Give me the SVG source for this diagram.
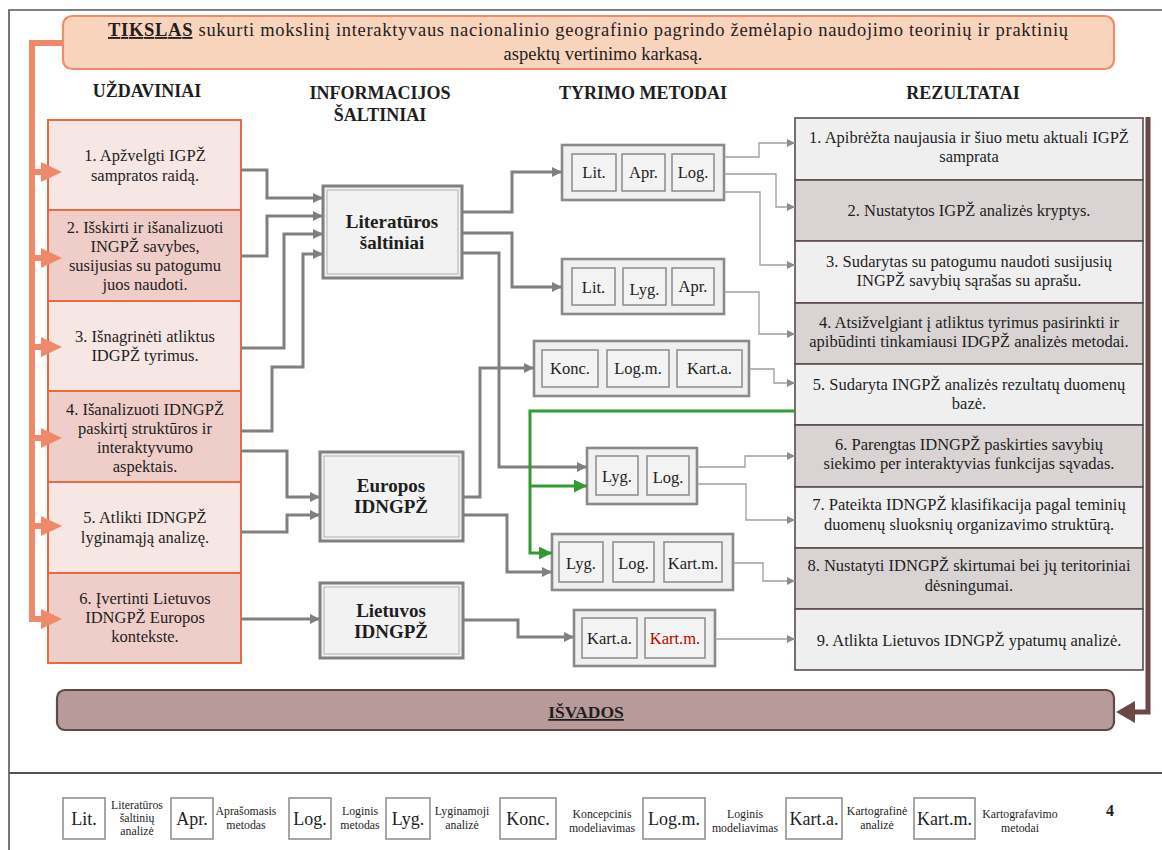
<svg xmlns="http://www.w3.org/2000/svg" width="1162" height="850" viewBox="0 0 1162 850">
<style>
text{font-family:"Liberation Serif",serif;fill:#1e1e1e}
.c{text-anchor:middle}
.task{font-size:16.5px}
.res{font-size:16.5px}
.hdr{font-size:18px;font-weight:bold}
.src{font-size:19px;font-weight:bold}
.m{font-size:16.5px}
.lg{font-size:18px}
.ld{font-size:11.8px}
.tl{fill:#f6e6e4;stroke:#e86a40;stroke-width:2}
.td{fill:#efcdc9;stroke:#e86a40;stroke-width:2}
.rl{fill:#efefef;stroke:#5b4b4b;stroke-width:1.6}
.rd{fill:#d9d3d3;stroke:#5b4b4b;stroke-width:1.6}
.sb{fill:#f2f2f2;stroke:#808080;stroke-width:3}
.sbi{fill:none;stroke:#b0b0b0;stroke-width:1}
.grp{fill:#f0f0f0;stroke:#8a8a8a;stroke-width:2.6}
.item{fill:#f3f3f3;stroke:#8a8a8a;stroke-width:1.5}
.lbox{fill:#fff;stroke:#8a8a8a;stroke-width:1.5}
.conn{fill:none;stroke:#808080;stroke-width:3}
.thin{fill:none;stroke:#9e9e9e;stroke-width:1.3}
.green{fill:none;stroke:#339933;stroke-width:3}
.orng{fill:none;stroke:#f0896a;stroke-width:6}
.oarr{fill:#f0896a}
</style>
<defs>
<marker id="ag" viewBox="0 0 10 10" refX="10" refY="5" markerWidth="11" markerHeight="10" markerUnits="userSpaceOnUse" orient="auto"><path d="M0,0L10,5L0,10z" fill="#808080"/></marker>
<marker id="at" viewBox="0 0 10 10" refX="10" refY="5" markerWidth="9" markerHeight="8" markerUnits="userSpaceOnUse" orient="auto"><path d="M0,0L10,5L0,10z" fill="#8c8c8c"/></marker>
<marker id="agr" viewBox="0 0 10 10" refX="10" refY="5" markerWidth="13" markerHeight="13" markerUnits="userSpaceOnUse" orient="auto"><path d="M0,0L10,5L0,10z" fill="#339933"/></marker>
</defs>

<g id="frame" fill="none" stroke="#555" stroke-width="1.6">
<path d="M9,850V10H1162"/>
<path d="M9,773H1162" stroke-width="2.2"/>
</g>

<g id="goal">
<rect x="63" y="16" width="1051" height="53" rx="9" fill="#f8d4bd" stroke="#f08c6c" stroke-width="2.2"/>
<text x="108" y="36" textLength="960" lengthAdjust="spacing" style="font-size:18.5px"><tspan font-weight="bold" text-decoration="underline">TIKSLAS</tspan> sukurti mokslinį interaktyvaus nacionalinio geografinio pagrindo žemėlapio naudojimo teorinių ir praktinių</text>
<text class="c" x="603" y="60" style="font-size:18.5px">aspektų vertinimo karkasą.</text>
</g>

<g id="headers">
<text class="c hdr" x="147" y="97">UŽDAVINIAI</text>
<text class="c hdr" x="380" y="99">INFORMACIJOS</text>
<text class="c hdr" x="380" y="121">ŠALTINIAI</text>
<text class="c hdr" x="643" y="99">TYRIMO METODAI</text>
<text class="c hdr" x="963" y="99">REZULTATAI</text>
</g>

<g id="task1"><rect class="tl" x="48" y="120" width="193" height="90"/>
<text class="c task" x="145" y="161">1. Apžvelgti IGPŽ</text><text class="c task" x="145" y="181">sampratos raidą.</text></g>
<g id="task2"><rect class="td" x="48" y="210" width="193" height="91"/>
<text class="c task" x="145" y="233">2. Išskirti ir išanalizuoti</text><text class="c task" x="145" y="252">INGPŽ savybes,</text><text class="c task" x="145" y="271">susijusias su patogumu</text><text class="c task" x="145" y="290">juos naudoti.</text></g>
<g id="task3"><rect class="tl" x="48" y="301" width="193" height="90"/>
<text class="c task" x="145" y="342">3. Išnagrinėti atliktus</text><text class="c task" x="145" y="361">IDGPŽ tyrimus.</text></g>
<g id="task4"><rect class="td" x="48" y="391" width="193" height="91"/>
<text class="c task" x="145" y="415">4. Išanalizuoti IDNGPŽ</text><text class="c task" x="145" y="434">paskirtį struktūros ir</text><text class="c task" x="145" y="453">interaktyvumo</text><text class="c task" x="145" y="472">aspektais.</text></g>
<g id="task5"><rect class="tl" x="48" y="482" width="193" height="91"/>
<text class="c task" x="145" y="523">5. Atlikti IDNGPŽ</text><text class="c task" x="145" y="543">lyginamąją analizę.</text></g>
<g id="task6"><rect class="td" x="48" y="573" width="193" height="90"/>
<text class="c task" x="145" y="604">6. Įvertinti Lietuvos</text><text class="c task" x="145" y="623">IDNGPŽ Europos</text><text class="c task" x="145" y="642">kontekste.</text></g>

<g id="orange-flow">
<path class="orng" d="M63,43H32V619H42"/>
<path class="orng" d="M32,172H42M32,258H42M32,347H42M32,438H42M32,526H42"/>
<polygon class="oarr" points="62,172 41,162 41,182"/>
<polygon class="oarr" points="62,258 41,248 41,268"/>
<polygon class="oarr" points="62,347 41,337 41,357"/>
<polygon class="oarr" points="62,438 41,428 41,448"/>
<polygon class="oarr" points="62,526 41,516 41,536"/>
<polygon class="oarr" points="62,619 41,609 41,629"/>
</g>

<g id="src-lit"><rect class="sb" x="323" y="186" width="139" height="92"/><rect class="sbi" x="327" y="190" width="131" height="84"/>
<text class="c src" x="392" y="228">Literatūros</text><text class="c src" x="392" y="249">šaltiniai</text></g>
<g id="src-eu"><rect class="sb" x="320" y="452" width="143" height="89"/><rect class="sbi" x="324" y="456" width="135" height="81"/>
<text class="c src" x="391" y="492">Europos</text><text class="c src" x="391" y="513">IDNGPŽ</text></g>
<g id="src-lt"><rect class="sb" x="320" y="583" width="143" height="75"/><rect class="sbi" x="324" y="587" width="135" height="67"/>
<text class="c src" x="391" y="617">Lietuvos</text><text class="c src" x="391" y="638">IDNGPŽ</text></g>

<g id="m1"><rect class="grp" x="562" y="145" width="162" height="55"/>
<rect class="item" x="572" y="154" width="44" height="37"/><text class="c m" x="594" y="178">Lit.</text>
<rect class="item" x="622" y="154" width="43" height="37"/><text class="c m" x="643.5" y="178">Apr.</text>
<rect class="item" x="672" y="154" width="42" height="37"/><text class="c m" x="693" y="178">Log.</text></g>
<g id="m2"><rect class="grp" x="562" y="259" width="162" height="55"/>
<rect class="item" x="572" y="268" width="43" height="37"/><text class="c m" x="593.5" y="293">Lit.</text>
<rect class="item" x="623" y="268" width="43" height="37"/><text class="c m" x="644.5" y="295">Lyg.</text>
<rect class="item" x="672" y="268" width="42" height="37"/><text class="c m" x="693" y="292">Apr.</text></g>
<g id="m3"><rect class="grp" x="534" y="341" width="215" height="55"/>
<rect class="item" x="542" y="350" width="56" height="37"/><text class="c m" x="570" y="374">Konc.</text>
<rect class="item" x="607" y="350" width="62" height="37"/><text class="c m" x="638" y="374">Log.m.</text>
<rect class="item" x="677" y="350" width="65" height="37"/><text class="c m" x="709.5" y="374">Kart.a.</text></g>
<g id="m4"><rect class="grp" x="587" y="448" width="110" height="56"/>
<rect class="item" x="596" y="456" width="42" height="39"/><text class="c m" x="617" y="482">Lyg.</text>
<rect class="item" x="647" y="456" width="42" height="39"/><text class="c m" x="668" y="483">Log.</text></g>
<g id="m5"><rect class="grp" x="552" y="534" width="181" height="56"/>
<rect class="item" x="559" y="542" width="44" height="40"/><text class="c m" x="581" y="569">Lyg.</text>
<rect class="item" x="613" y="542" width="41" height="40"/><text class="c m" x="633.5" y="569">Log.</text>
<rect class="item" x="664" y="542" width="58" height="40"/><text class="c m" x="693" y="569">Kart.m.</text></g>
<g id="m6"><rect class="grp" x="574" y="610" width="141" height="56"/>
<rect class="item" x="582" y="618" width="55" height="40"/><text class="c m" x="609.5" y="644">Kart.a.</text>
<rect class="item" x="645" y="618" width="60" height="40"/><text class="c m" x="675" y="644" style="fill:#c00000">Kart.m.</text></g>

<g id="r1"><rect class="rl" x="795" y="118" width="348" height="62"/>
<text class="c res" x="969" y="143">1. Apibrėžta naujausia ir šiuo metu aktuali IGPŽ</text><text class="c res" x="969" y="162">samprata</text></g>
<g id="r2"><rect class="rd" x="795" y="180" width="348" height="61"/>
<text class="c res" x="969" y="216">2. Nustatytos IGPŽ analizės kryptys.</text></g>
<g id="r3"><rect class="rl" x="795" y="241" width="348" height="62"/>
<text class="c res" x="969" y="267">3. Sudarytas su patogumu naudoti susijusių</text><text class="c res" x="969" y="286">INGPŽ savybių sąrašas su aprašu.</text></g>
<g id="r4"><rect class="rd" x="795" y="303" width="348" height="61"/>
<text class="c res" x="969" y="328">4. Atsižvelgiant į atliktus tyrimus pasirinkti ir</text><text class="c res" x="969" y="347">apibūdinti tinkamiausi IDGPŽ analizės metodai.</text></g>
<g id="r5"><rect class="rl" x="795" y="364" width="348" height="61"/>
<text class="c res" x="969" y="390">5. Sudaryta INGPŽ analizės rezultatų duomenų</text><text class="c res" x="969" y="409">bazė.</text></g>
<g id="r6"><rect class="rd" x="795" y="425" width="348" height="62"/>
<text class="c res" x="969" y="450">6. Parengtas IDNGPŽ paskirties savybių</text><text class="c res" x="969" y="469">siekimo per interaktyvias funkcijas sąvadas.</text></g>
<g id="r7"><rect class="rl" x="795" y="487" width="348" height="61"/>
<text class="c res" x="969" y="510">7. Pateikta IDNGPŽ klasifikacija pagal teminių</text><text class="c res" x="969" y="530">duomenų sluoksnių organizavimo struktūrą.</text></g>
<g id="r8"><rect class="rd" x="795" y="548" width="348" height="61"/>
<text class="c res" x="969" y="571">8. Nustatyti IDNGPŽ skirtumai bei jų teritoriniai</text><text class="c res" x="969" y="591">dėsningumai.</text></g>
<g id="r9"><rect class="rl" x="795" y="609" width="348" height="61"/>
<text class="c res" x="969" y="646">9. Atlikta Lietuvos IDNGPŽ ypatumų analizė.</text></g>

<g id="conclusions"><rect x="57" y="690" width="1057" height="40" rx="8" fill="#b99a9a" stroke="#5e4848" stroke-width="2.2"/>
<text class="c" x="586" y="718" style="font-size:17.5px;font-weight:bold;text-decoration:underline">IŠVADOS</text></g>

<g id="connectors">
<path class="conn" marker-end="url(#ag)" d="M241,170H267V198H323"/>
<path class="conn" marker-end="url(#ag)" d="M241,256H267V216H323"/>
<path class="conn" marker-end="url(#ag)" d="M241,348H284V234H323"/>
<path class="conn" marker-end="url(#ag)" d="M241,431H272V367H303V254H323"/>
<path class="conn" marker-end="url(#ag)" d="M241,451H287V497H320"/>
<path class="conn" marker-end="url(#ag)" d="M241,532H287V515H320"/>
<path class="conn" marker-end="url(#ag)" d="M241,619H320"/>
<path class="conn" marker-end="url(#ag)" d="M462,212H512V172H562"/>
<path class="conn" marker-end="url(#ag)" d="M462,233H512V287H562"/>
<path class="conn" marker-end="url(#ag)" d="M462,253H499V467H587"/>
<path class="conn" marker-end="url(#ag)" d="M463,497H480V368H534"/>
<path class="conn" marker-end="url(#ag)" d="M463,515H507V572H552"/>
<path class="conn" marker-end="url(#ag)" d="M463,620H518V637H574"/>
<path class="thin" marker-end="url(#at)" d="M724,157H759V143H795"/>
<path class="thin" marker-end="url(#at)" d="M724,174H776V207H795"/>
<path class="thin" marker-end="url(#at)" d="M724,192H760V265H795"/>
<path class="thin" marker-end="url(#at)" d="M724,292H759V334H795"/>
<path class="thin" marker-end="url(#at)" d="M749,369H774V383H795"/>
<path class="thin" marker-end="url(#at)" d="M697,467H745V456H795"/>
<path class="thin" marker-end="url(#at)" d="M697,484H746V520H795"/>
<path class="thin" marker-end="url(#at)" d="M733,563H763V581H795"/>
<path class="thin" marker-end="url(#at)" d="M715,639H795"/>
<path class="green" marker-end="url(#agr)" d="M795,411H530V553H552"/>
<path class="green" marker-end="url(#agr)" d="M530,486H587"/>
<path d="M1148,117V712H1133" fill="none" stroke="#6a4848" stroke-width="5"/>
<polygon points="1116,712 1135,701 1135,723" fill="#6a4848"/>
</g>

<g id="legend">
<rect class="lbox" x="63" y="798" width="42" height="41"/><text class="c lg" x="84" y="825">Lit.</text>
<text class="c ld" x="137" y="809">Literatūros</text><text class="c ld" x="137" y="822">šaltinių</text><text class="c ld" x="137" y="835">analizė</text>
<rect class="lbox" x="171" y="798" width="42" height="41"/><text class="c lg" x="192" y="825">Apr.</text>
<text class="c ld" x="246" y="815">Aprašomasis</text><text class="c ld" x="246" y="829">metodas</text>
<rect class="lbox" x="289" y="798" width="42" height="41"/><text class="c lg" x="310" y="825">Log.</text>
<text class="c ld" x="360" y="815">Loginis</text><text class="c ld" x="360" y="829">metodas</text>
<rect class="lbox" x="386" y="798" width="44" height="41"/><text class="c lg" x="408" y="825">Lyg.</text>
<text class="c ld" x="462" y="815">Lyginamoji</text><text class="c ld" x="462" y="829">analizė</text>
<rect class="lbox" x="500" y="798" width="56" height="41"/><text class="c lg" x="528" y="825">Konc.</text>
<text class="c ld" x="602" y="818">Koncepcinis</text><text class="c ld" x="602" y="832">modeliavimas</text>
<rect class="lbox" x="643" y="798" width="62" height="41"/><text class="c lg" x="674" y="825">Log.m.</text>
<text class="c ld" x="745" y="818">Loginis</text><text class="c ld" x="745" y="832">modeliavimas</text>
<rect class="lbox" x="786" y="798" width="56" height="41"/><text class="c lg" x="814" y="825">Kart.a.</text>
<text class="c ld" x="877" y="815">Kartografinė</text><text class="c ld" x="877" y="829">analizė</text>
<rect class="lbox" x="914" y="798" width="61" height="41"/><text class="c lg" x="944.5" y="825">Kart.m.</text>
<text class="c ld" x="1020" y="818">Kartografavimo</text><text class="c ld" x="1020" y="832">metodai</text>
<text class="c" x="1110" y="816" style="font-size:16px;font-weight:bold">4</text>
</g>
</svg>
